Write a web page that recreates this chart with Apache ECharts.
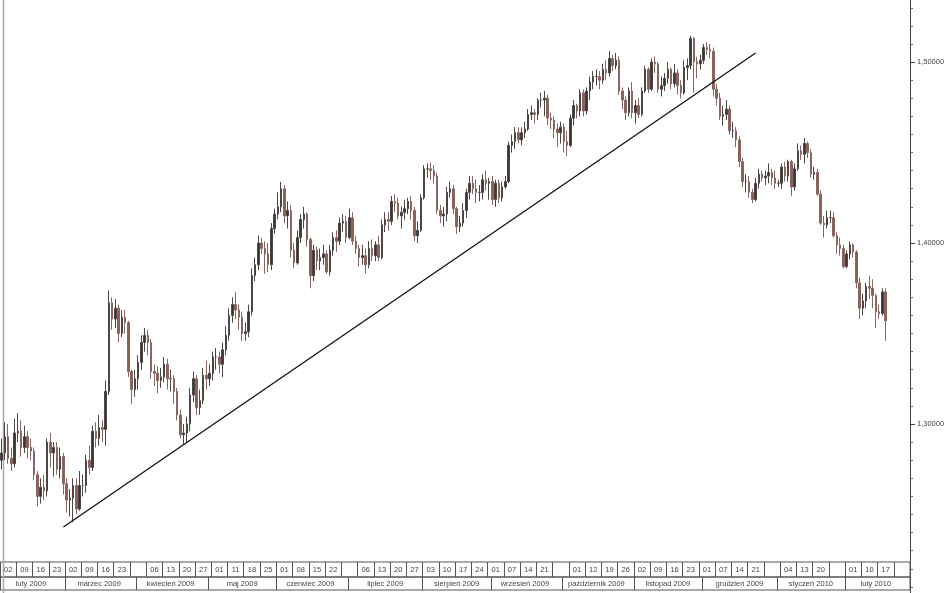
<!DOCTYPE html>
<html><head><meta charset="utf-8">
<script src="https://cdn.jsdelivr.net/npm/echarts@6/dist/echarts.min.js"></script>
<style>html,body{margin:0;padding:0;background:#fff}#c{width:948px;height:593px}</style>
</head><body><div id="c"></div>
<script>
// ---- data: daily bars [open, close, low, high], one array per month ----
const feb2009 = [
[1.2800,1.2840,1.2750,1.2920],[1.2840,1.2930,1.2800,1.3010],[1.2930,1.2810,1.2780,1.3000],[1.2810,1.2780,1.2740,1.2870],[1.2780,1.2950,1.2760,1.3030],
[1.2950,1.2960,1.2900,1.3060],[1.2960,1.2870,1.2820,1.3020],[1.2870,1.2930,1.2840,1.2990],[1.2930,1.2870,1.2810,1.2960],[1.2870,1.2850,1.2800,1.2920],
[1.2850,1.2720,1.2690,1.2870],[1.2720,1.2600,1.2545,1.2740],[1.2600,1.2650,1.2560,1.2700],[1.2650,1.2630,1.2580,1.2720],[1.2630,1.2900,1.2600,1.2920],
[1.2900,1.2840,1.2760,1.2950],[1.2840,1.2870,1.2710,1.2900],[1.2870,1.2750,1.2720,1.2900],[1.2750,1.2820,1.2700,1.2870],[1.2820,1.2670,1.2610,1.2840]];
const mar2009 = [
[1.2670,1.2580,1.2510,1.2700],[1.2580,1.2590,1.2490,1.2640],[1.2590,1.2660,1.2457,1.2700],[1.2660,1.2530,1.2500,1.2700],[1.2530,1.2660,1.2520,1.2740],
[1.2660,1.2660,1.2600,1.2720],[1.2660,1.2800,1.2620,1.2830],[1.2800,1.2760,1.2720,1.2880],[1.2760,1.2960,1.2740,1.2990],[1.2960,1.2920,1.2870,1.3010],
[1.2920,1.2980,1.2880,1.3050],[1.2980,1.2970,1.2900,1.3020],[1.2970,1.3180,1.2880,1.3240],[1.3180,1.3670,1.3160,1.3738],[1.3670,1.3580,1.3520,1.3700],
[1.3580,1.3640,1.3530,1.3690],[1.3640,1.3500,1.3450,1.3660],[1.3500,1.3590,1.3480,1.3630],[1.3590,1.3560,1.3500,1.3630],[1.3560,1.3290,1.3260,1.3570],
[1.3290,1.3190,1.3110,1.3300],[1.3190,1.3250,1.3150,1.3300]];
const apr2009 = [
[1.3250,1.3340,1.3190,1.3380],[1.3340,1.3450,1.3300,1.3490],[1.3450,1.3490,1.3400,1.3530],
[1.3490,1.3450,1.3380,1.3520],[1.3450,1.3290,1.3250,1.3470],[1.3290,1.3280,1.3210,1.3330],[1.3280,1.3240,1.3170,1.3320],[1.3240,1.3260,1.3200,1.3310],
[1.3260,1.3330,1.3230,1.3370],[1.3330,1.3250,1.3190,1.3360],[1.3250,1.3250,1.3180,1.3300],[1.3250,1.3180,1.3110,1.3270],[1.3180,1.3050,1.3020,1.3200],
[1.3050,1.2940,1.2920,1.3080],[1.2940,1.2950,1.2888,1.3000],[1.2950,1.3000,1.2900,1.3040],[1.3000,1.3160,1.2960,1.3200],[1.3160,1.3250,1.3120,1.3290],
[1.3250,1.3090,1.3050,1.3270],[1.3090,1.3130,1.3050,1.3190],[1.3130,1.3270,1.3110,1.3310],[1.3270,1.3250,1.3190,1.3350]];
const may2009 = [
[1.3250,1.3280,1.3210,1.3330],
[1.3280,1.3370,1.3240,1.3400],[1.3370,1.3370,1.3300,1.3420],[1.3370,1.3330,1.3280,1.3400],[1.3330,1.3410,1.3260,1.3450],[1.3410,1.3490,1.3380,1.3540],
[1.3490,1.3600,1.3460,1.3640],[1.3600,1.3660,1.3560,1.3700],[1.3660,1.3630,1.3580,1.3730],[1.3630,1.3590,1.3520,1.3660],[1.3590,1.3500,1.3460,1.3620],
[1.3500,1.3510,1.3460,1.3560],[1.3510,1.3620,1.3480,1.3660],[1.3620,1.3820,1.3600,1.3860],[1.3820,1.3880,1.3790,1.3920],[1.3880,1.4000,1.3850,1.4040],
[1.4000,1.3970,1.3940,1.4030],[1.3970,1.3940,1.3830,1.4010],[1.3940,1.3880,1.3840,1.4000],[1.3880,1.4080,1.3850,1.4110],[1.4080,1.4160,1.4050,1.4190]];
const jun2009 = [
[1.4160,1.4200,1.4130,1.4280],[1.4200,1.4300,1.4170,1.4338],[1.4300,1.4150,1.4110,1.4320],[1.4150,1.4180,1.4080,1.4230],[1.4180,1.3960,1.3920,1.4210],
[1.3960,1.3890,1.3860,1.4000],[1.3890,1.4030,1.3880,1.4070],[1.4030,1.4130,1.4000,1.4160],[1.4130,1.4160,1.4080,1.4200],[1.4160,1.4020,1.3980,1.4170],
[1.4020,1.3820,1.3750,1.4030],[1.3820,1.3960,1.3790,1.3990],[1.3960,1.3900,1.3850,1.3980],[1.3900,1.3920,1.3850,1.3970],[1.3920,1.3940,1.3880,1.3990],
[1.3940,1.3840,1.3830,1.3960],[1.3840,1.3960,1.3820,1.3990],[1.3960,1.4030,1.3930,1.4060],[1.4030,1.4010,1.3950,1.4070],[1.4010,1.4110,1.3990,1.4140],
[1.4110,1.4120,1.4060,1.4160],[1.4120,1.4030,1.4000,1.4150]];
const jul2009 = [
[1.4030,1.4140,1.4020,1.4190],[1.4140,1.4010,1.3990,1.4170],[1.4010,1.3970,1.3940,1.4040],
[1.3970,1.3920,1.3870,1.3990],[1.3920,1.3930,1.3880,1.3990],[1.3930,1.3880,1.3830,1.3970],[1.3880,1.3970,1.3860,1.4010],[1.3970,1.3930,1.3900,1.4020],
[1.3930,1.3990,1.3900,1.4010],[1.3990,1.3920,1.3900,1.4040],[1.3920,1.4100,1.3910,1.4130],[1.4100,1.4130,1.4060,1.4170],[1.4130,1.4120,1.4070,1.4170],
[1.4120,1.4230,1.4100,1.4260],[1.4230,1.4220,1.4170,1.4270],[1.4220,1.4150,1.4130,1.4250],[1.4150,1.4170,1.4080,1.4200],[1.4170,1.4190,1.4130,1.4240],
[1.4190,1.4230,1.4160,1.4250],[1.4230,1.4180,1.4130,1.4260],[1.4180,1.4040,1.4010,1.4200],[1.4040,1.4070,1.4000,1.4120],[1.4070,1.4250,1.4060,1.4270]];
const aug2009 = [
[1.4250,1.4410,1.4240,1.4430],[1.4410,1.4410,1.4360,1.4440],[1.4410,1.4400,1.4350,1.4445],[1.4400,1.4370,1.4330,1.4430],[1.4370,1.4180,1.4160,1.4390],
[1.4180,1.4150,1.4110,1.4210],[1.4150,1.4160,1.4090,1.4200],[1.4160,1.4280,1.4120,1.4310],[1.4280,1.4300,1.4250,1.4340],[1.4300,1.4190,1.4160,1.4320],
[1.4190,1.4090,1.4050,1.4200],[1.4090,1.4110,1.4060,1.4150],[1.4110,1.4180,1.4090,1.4220],[1.4180,1.4280,1.4140,1.4300],[1.4280,1.4330,1.4240,1.4370],
[1.4330,1.4300,1.4270,1.4370],[1.4300,1.4280,1.4220,1.4350],[1.4280,1.4280,1.4230,1.4320],[1.4280,1.4350,1.4240,1.4380],[1.4350,1.4330,1.4290,1.4400],
[1.4330,1.4340,1.4240,1.4360]];
const sep2009 = [
[1.4340,1.4240,1.4210,1.4370],[1.4240,1.4330,1.4200,1.4350],[1.4330,1.4250,1.4220,1.4350],[1.4250,1.4310,1.4230,1.4340],
[1.4310,1.4340,1.4300,1.4370],[1.4340,1.4540,1.4330,1.4560],[1.4540,1.4560,1.4500,1.4600],[1.4560,1.4610,1.4520,1.4640],[1.4610,1.4570,1.4550,1.4640],
[1.4570,1.4610,1.4540,1.4640],[1.4610,1.4630,1.4580,1.4670],[1.4630,1.4710,1.4620,1.4740],[1.4710,1.4720,1.4680,1.4760],[1.4720,1.4710,1.4660,1.4740],
[1.4710,1.4790,1.4680,1.4800],[1.4790,1.4790,1.4750,1.4830],[1.4790,1.4800,1.4700,1.4840],[1.4800,1.4690,1.4650,1.4820],[1.4690,1.4680,1.4630,1.4720],
[1.4680,1.4630,1.4580,1.4700],[1.4630,1.4610,1.4530,1.4660],[1.4610,1.4640,1.4550,1.4670]];
const oct2009 = [
[1.4640,1.4560,1.4500,1.4660],[1.4560,1.4540,1.4480,1.4620],
[1.4540,1.4690,1.4530,1.4710],[1.4690,1.4760,1.4650,1.4790],[1.4760,1.4730,1.4690,1.4770],[1.4730,1.4830,1.4700,1.4850],[1.4830,1.4730,1.4700,1.4850],
[1.4730,1.4840,1.4710,1.4860],[1.4840,1.4890,1.4790,1.4920],[1.4890,1.4920,1.4850,1.4950],[1.4920,1.4920,1.4870,1.4960],[1.4920,1.4900,1.4850,1.4950],
[1.4900,1.4960,1.4880,1.4990],[1.4960,1.4940,1.4900,1.5010],[1.4940,1.5020,1.4920,1.5060],[1.5020,1.4980,1.4950,1.5040],[1.4980,1.5010,1.4960,1.5050],
[1.5010,1.4840,1.4820,1.5030],[1.4840,1.4790,1.4740,1.4860],[1.4790,1.4720,1.4680,1.4810],[1.4720,1.4840,1.4700,1.4860],[1.4840,1.4720,1.4690,1.4890]];
const nov2009 = [
[1.4720,1.4760,1.4660,1.4790],[1.4760,1.4710,1.4690,1.4800],[1.4710,1.4840,1.4700,1.4860],[1.4840,1.4960,1.4830,1.4980],[1.4960,1.4850,1.4830,1.4970],
[1.4850,1.5000,1.4840,1.5020],[1.5000,1.4990,1.4940,1.5030],[1.4990,1.4850,1.4830,1.5000],[1.4850,1.4870,1.4810,1.4920],[1.4870,1.4910,1.4840,1.4940],
[1.4910,1.4960,1.4880,1.5000],[1.4960,1.4880,1.4850,1.4970],[1.4880,1.4940,1.4860,1.4990],[1.4940,1.4870,1.4820,1.4960],[1.4870,1.4830,1.4800,1.4900],
[1.4830,1.4970,1.4820,1.5010],[1.4970,1.4980,1.4900,1.5020],[1.4980,1.5130,1.4960,1.5145],[1.5130,1.5000,1.4830,1.5140],[1.5000,1.4990,1.4910,1.5030],
[1.4990,1.5010,1.4960,1.5040]];
const dec2009 = [
[1.5010,1.5080,1.4990,1.5100],[1.5080,1.5070,1.5040,1.5110],[1.5070,1.5060,1.5020,1.5100],[1.5060,1.4850,1.4810,1.5080],
[1.4850,1.4800,1.4760,1.4880],[1.4800,1.4700,1.4680,1.4830],[1.4700,1.4710,1.4650,1.4760],[1.4710,1.4740,1.4680,1.4790],[1.4740,1.4620,1.4600,1.4760],
[1.4620,1.4620,1.4580,1.4670],[1.4620,1.4570,1.4530,1.4640],[1.4570,1.4450,1.4420,1.4590],[1.4450,1.4340,1.4310,1.4470],[1.4340,1.4340,1.4280,1.4380],
[1.4340,1.4280,1.4250,1.4370],[1.4280,1.4240,1.4220,1.4300],[1.4240,1.4330,1.4230,1.4360],[1.4330,1.4380,1.4300,1.4410],[1.4380,1.4360,1.4340,1.4400],
[1.4360,1.4370,1.4320,1.4400],[1.4370,1.4390,1.4330,1.4440],[1.4390,1.4360,1.4320,1.4410],[1.4360,1.4330,1.4300,1.4400]];
const jan2010 = [
[1.4330,1.4330,1.4310,1.4350],
[1.4330,1.4420,1.4300,1.4440],[1.4420,1.4370,1.4340,1.4450],[1.4370,1.4450,1.4340,1.4460],[1.4450,1.4310,1.4260,1.4460],[1.4310,1.4410,1.4290,1.4440],
[1.4410,1.4510,1.4400,1.4550],[1.4510,1.4490,1.4460,1.4540],[1.4490,1.4550,1.4440,1.4580],[1.4550,1.4500,1.4470,1.4560],[1.4500,1.4380,1.4360,1.4520],
[1.4380,1.4390,1.4350,1.4420],[1.4390,1.4270,1.4260,1.4410],[1.4270,1.4110,1.4100,1.4290],[1.4110,1.4100,1.4030,1.4150],[1.4100,1.4140,1.4080,1.4180],
[1.4140,1.4140,1.4110,1.4180],[1.4140,1.4040,1.4030,1.4170],[1.4040,1.3990,1.3940,1.4060],[1.3990,1.3970,1.3930,1.4030],[1.3970,1.3870,1.3860,1.3990]];
const feb2010 = [
[1.3870,1.3940,1.3860,1.3960],[1.3940,1.3990,1.3910,1.4010],[1.3990,1.3950,1.3920,1.4000],[1.3950,1.3780,1.3750,1.3960],[1.3780,1.3640,1.3580,1.3810],
[1.3640,1.3680,1.3600,1.3720],[1.3680,1.3760,1.3640,1.3780],[1.3760,1.3750,1.3690,1.3820],[1.3750,1.3710,1.3640,1.3800],[1.3710,1.3620,1.3530,1.3720],
[1.3620,1.3610,1.3580,1.3660],[1.3610,1.3730,1.3600,1.3750],[1.3730,1.3570,1.3460,1.3750]];

// trend line end points
const trendDates = ['2009-02-27', '2009-12-23'];
const trendValues = [1.2431, 1.5050];

// axis text and ticks
const firstDay = '2009-02-02';
const dayCount = 280; // trading days on the axis
const dayLabelWeeks = ['2009-02-02','2009-02-09','2009-02-16','2009-02-23','2009-03-02','2009-03-09','2009-03-16','2009-03-23',
 '2009-04-06','2009-04-13','2009-04-20','2009-04-27','2009-05-04','2009-05-11','2009-05-18','2009-05-25',
 '2009-06-01','2009-06-08','2009-06-15','2009-06-22','2009-07-06','2009-07-13','2009-07-20','2009-07-27',
 '2009-08-03','2009-08-10','2009-08-17','2009-08-24','2009-08-31','2009-09-07','2009-09-14','2009-09-21',
 '2009-10-05','2009-10-12','2009-10-19','2009-10-26','2009-11-02','2009-11-09','2009-11-16','2009-11-23',
 '2009-11-30','2009-12-07','2009-12-14','2009-12-21','2010-01-04','2010-01-11','2010-01-18',
 '2010-02-01','2010-02-08','2010-02-15'];
const dayLabelTexts = ['02','09','16','23','02','09','16','23','06','13','20','27','01','11','18','25',
 '01','08','15','22','06','13','20','27','03','10','17','24','01','07','14','21',
 '01','12','19','26','02','09','16','23','01','07','14','21','04','13','20','01','10','17'];
const monthKeys = ['2009-02','2009-03','2009-04','2009-05','2009-06','2009-07','2009-08','2009-09','2009-10','2009-11','2009-12','2010-01','2010-02'];
const monthNames = ['luty 2009','marzec 2009','kwiecień 2009','maj 2009','czerwiec 2009','lipiec 2009','sierpień 2009','wrzesień 2009','październik 2009','listopad 2009','grudzień 2009','styczeń 2010','luty 2010'];
const yMin = 1.2066, yMax = 1.5343;
const yMajorTicks = [1.3, 1.4, 1.5];
const yMinorTicks = [1.21,1.22,1.23,1.24,1.25,1.26,1.27,1.28,1.29,1.31,1.32,1.33,1.34,1.35,1.36,1.37,1.38,1.39,
 1.41,1.42,1.43,1.44,1.45,1.46,1.47,1.48,1.49,1.51,1.52,1.53];

// ---- build ----
const dates = [];
{
  let t = Date.parse(firstDay + 'T00:00:00Z');
  while (dates.length < dayCount) {
    const d = new Date(t);
    const wd = d.getUTCDay();
    if (wd !== 0 && wd !== 6) dates.push(d.toISOString().slice(0, 10));
    t += 86400000;
  }
}
const bars = [].concat(feb2009, mar2009, apr2009, may2009, jun2009, jul2009, aug2009, sep2009, oct2009, nov2009, dec2009, jan2010, feb2010);
const idxOf = {}; dates.forEach((d, i) => idxOf[d] = i);

const dayLabelAt = {}; const dayTickAt = {};
dayLabelWeeks.forEach((w, k) => {
  const i = idxOf[w];
  dayLabelAt[i + 2] = dayLabelTexts[k];
  dayTickAt[i] = true; dayTickAt[i + 5] = true;
});
const monthLabelAt = {}; const monthTickAt = {};
monthKeys.forEach((m, k) => {
  let s = -1, e = -1;
  dates.forEach((d, i) => { if (d.slice(0, 7) === m) { if (s < 0) s = i; e = i; } });
  if (s >= 0) { monthTickAt[s] = true; monthLabelAt[Math.floor((s + e) / 2)] = monthNames[k]; }
});

const txt = { color: '#444', fontSize: 7.5, fontFamily: 'Liberation Sans, Arial, sans-serif' };
const chart = echarts.init(document.getElementById('c'), null, { renderer: 'canvas' });
chart.setOption({
  animation: false,
  backgroundColor: '#fff',
  grid: [
    { left: 0, right: 38, top: 0, height: 593 },
    { left: 0, right: 38, top: 562, height: 15, show: true, borderColor: '#555', borderWidth: 1 },
    { left: 0, right: 38, top: 577, height: 13, show: true, borderColor: '#555', borderWidth: 1 }
  ],
  xAxis: [
    { gridIndex: 0, type: 'category', data: dates, boundaryGap: true, show: false },
    { gridIndex: 1, type: 'category', data: dates, boundaryGap: true,
      axisLine: { show: false },
      axisTick: { show: true, inside: true, length: 15, lineStyle: { color: '#555' },
        interval: (i) => !!dayTickAt[i] },
      axisLabel: Object.assign({ show: true, inside: true, margin: 3,
        interval: (i) => dayLabelAt[i] !== undefined,
        formatter: (v, i) => dayLabelAt[i] || '' }, txt) },
    { gridIndex: 2, type: 'category', data: dates, boundaryGap: true,
      axisLine: { show: false },
      axisTick: { show: true, inside: true, length: 13, lineStyle: { color: '#555' },
        interval: (i) => !!monthTickAt[i] },
      axisLabel: Object.assign({ show: true, inside: true, margin: 2,
        interval: (i) => monthLabelAt[i] !== undefined,
        formatter: (v, i) => monthLabelAt[i] || '' }, txt) }
  ],
  yAxis: [
    { gridIndex: 0, type: 'value', position: 'right', min: yMin, max: yMax,
      axisLine: { show: true, lineStyle: { color: '#444', width: 1 } },
      axisTick: { show: true, length: 5, lineStyle: { color: '#444' }, customValues: yMajorTicks },
      splitLine: { show: false },
      axisLabel: Object.assign({ margin: 7, customValues: yMajorTicks,
        formatter: (v) => v.toFixed(5).replace('.', ',') }, txt) },
    { gridIndex: 1, type: 'value', show: false },
    { gridIndex: 2, type: 'value', show: false },
    { gridIndex: 0, type: 'value', position: 'right', min: yMin, max: yMax,
      axisLine: { show: false },
      axisTick: { show: true, length: 3, lineStyle: { color: '#666' }, customValues: yMinorTicks },
      axisLabel: { show: false }, splitLine: { show: false } }
  ],
  series: [
    { type: 'candlestick', xAxisIndex: 0, yAxisIndex: 0, data: bars, barWidth: 2,
      itemStyle: { color: '#3b3535', color0: '#8e5e56', borderColor: '#4e4646', borderColor0: '#8a6660', borderWidth: 1 } },
    { type: 'line', xAxisIndex: 0, yAxisIndex: 0, symbol: 'none',
      data: trendDates.map((d, k) => [d, trendValues[k]]),
      lineStyle: { color: '#111', width: 1.3 } }
  ],
  graphic: [
    { type: 'line', shape: { x1: 3.5, y1: 0, x2: 3.5, y2: 593 }, style: { stroke: '#aaa', lineWidth: 1.5 }, silent: true }
  ]
});
</script>
</body></html>
